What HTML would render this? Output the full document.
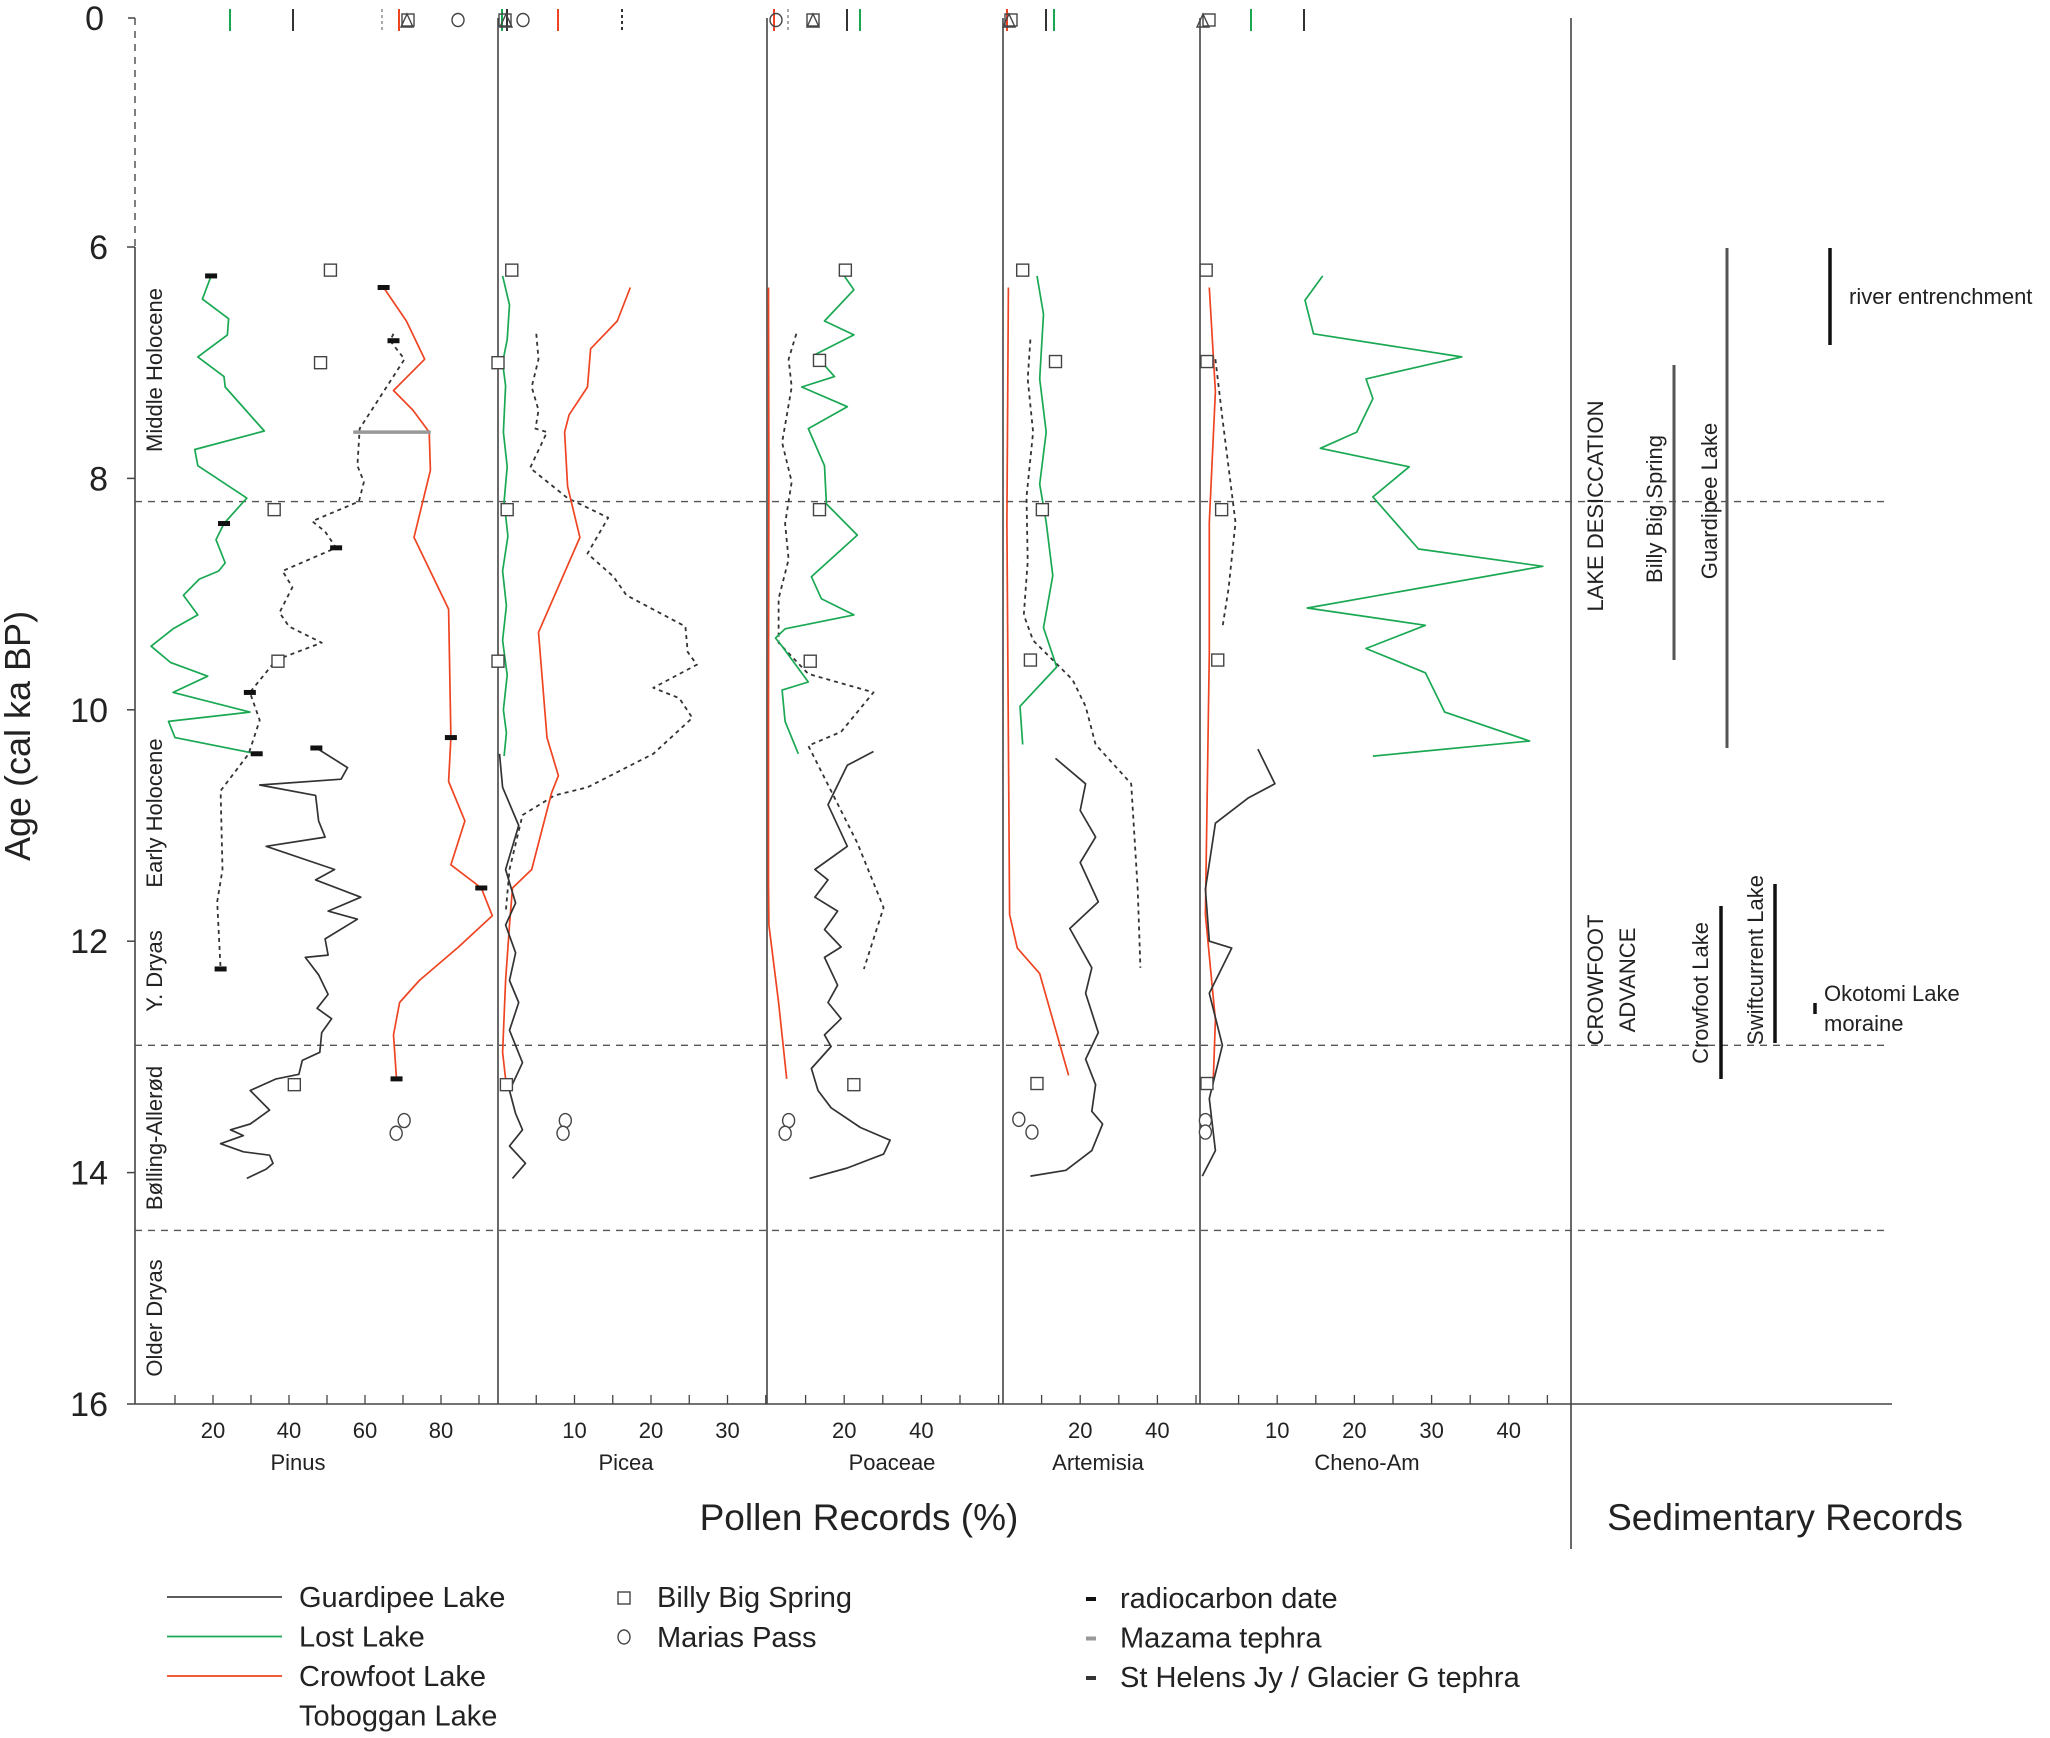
<!DOCTYPE html>
<html><head><meta charset="utf-8"><style>
html,body{margin:0;padding:0;background:#fff}
svg{display:block;font-family:"Liberation Sans",sans-serif}
</style></head><body>
<svg id="chart" width="2050" height="1738" viewBox="0 0 2050 1738" xmlns="http://www.w3.org/2000/svg">
<g id="static"></g>
<g id="marks"></g>
</svg>
<script>
// ---------- data (age ka BP, percent) ----------
const yTicks = [6,8,10,12,14,16];
const zoneBounds = [8.2,12.9,14.5];
const pinusTicks = [20,40,60,80];
const piceaTicks = [10,20,30];
const poaceaeTicks = [20,40];
const artemisiaTicks = [20,40];
const chenoTicks = [10,20,30,40];

const pinusLostAge = [6.25,6.45,6.62,6.76,6.95,7.12,7.21,7.59,7.75,7.89,8.17,8.39,8.53,8.73,8.80,8.87,9.01,9.18,9.30,9.45,9.59,9.71,9.85,10.02,10.10,10.24,10.38];
const pinusLostVal = [19.5,17.2,24.1,23.8,16.0,22.9,23.2,33.5,15.2,16.0,28.9,22.9,20.8,23.2,21.5,16.4,12.2,16.0,9.5,3.7,8.8,18.6,9.5,29.7,8.3,10.0,31.5];
const pinusTobAge = [6.75,6.81,6.97,7.57,7.89,8.03,8.20,8.37,8.46,8.60,8.80,8.94,9.16,9.28,9.42,9.57,9.85,10.09,10.38,10.70,11.38,11.66,12.24];
const pinusTobVal = [67.5,66.6,70.4,58.6,58.0,59.7,58.4,46.1,49.5,52.4,38.3,40.9,37.5,40.0,48.6,36.6,29.7,32.3,29.4,22.0,22.5,21.1,22.0];
const pinusGuaAge = [10.33,10.50,10.60,10.65,10.74,10.96,11.10,11.18,11.38,11.47,11.62,11.74,11.81,11.98,12.12,12.14,12.29,12.46,12.58,12.67,12.79,12.96,13.03,13.15,13.19,13.29,13.46,13.58,13.63,13.68,13.75,13.82,13.85,13.92,13.97,14.05];
const pinusGuaVal = [47.2,55.4,53.7,32.3,47.0,47.8,49.5,34.0,52.0,47.0,58.9,50.3,58.0,49.5,50.3,44.3,47.8,50.3,47.4,51.2,48.6,48.1,43.5,42.6,36.6,29.8,34.9,29.8,24.6,28.0,22.0,28.0,34.9,35.8,34.0,28.9];
const pinusCrowAge = [6.35,6.64,6.97,7.24,7.41,7.60,7.93,8.51,9.13,10.24,10.62,10.96,11.34,11.54,11.78,12.05,12.34,12.53,12.81,13.19];
const pinusCrowVal = [64.9,70.9,75.7,67.5,72.6,76.9,77.2,72.9,82.0,82.6,82.0,86.3,82.6,90.6,93.5,84.6,74.3,69.1,67.5,68.3];
const pinusDateAge = [6.25,8.39,9.85,10.38,10.33,12.24,8.60,6.35,6.81,10.24,11.54,13.19];
const pinusDateVal = [19.5,22.9,29.7,31.5,47.2,22.0,52.4,64.9,67.5,82.6,90.6,68.3];
const pinusSqAge = [6.2,7.0,8.27,9.58,13.24];
const pinusSqVal = [50.9,48.3,36.1,37.1,41.4];
const pinusCircAge = [13.55,13.66];
const pinusCircVal = [70.3,68.2];

const piceaLostAge = [6.25,6.5,6.8,7.0,7.2,7.6,7.9,8.2,8.5,8.8,9.1,9.4,9.7,10.0,10.2,10.4];
const piceaLostVal = [0.6,1.5,1.2,0.6,1.0,0.7,1.2,0.8,1.3,0.6,1.1,0.6,1.2,0.7,1.1,0.8];
const piceaTobAge = [6.75,6.97,7.21,7.41,7.57,7.60,7.91,8.17,8.34,8.65,8.85,9.01,9.28,9.50,9.61,9.81,9.90,10.07,10.38,10.67,10.74,10.91,11.38,11.76];
const piceaTobVal = [5.0,5.3,4.4,5.3,4.9,6.4,4.2,9.1,14.4,11.7,15.1,16.8,24.5,24.8,26.0,20.3,23.7,25.4,20.3,11.7,7.4,3.2,1.5,1.0];
const piceaCrowAge = [6.35,6.64,6.88,7.21,7.45,7.60,8.07,8.51,9.33,10.24,10.57,10.72,11.38,11.54,11.86,12.34,12.96,13.19];
const piceaCrowVal = [17.3,15.6,12.1,11.7,9.3,8.7,9.1,10.7,5.3,6.4,7.9,7.0,4.4,1.9,1.5,1.0,0.6,1.0];
const piceaGuaAge = [10.38,10.67,11.0,11.38,11.67,11.86,12.1,12.34,12.53,12.77,13.05,13.29,13.49,13.63,13.77,13.92,14.05];
const piceaGuaVal = [0.2,0.6,2.7,1.0,2.3,1.0,2.3,1.5,2.7,1.5,3.2,1.5,2.3,3.2,1.5,3.6,1.9];
const piceaSqAge = [6.2,7.0,8.27,9.58,13.24];
const piceaSqVal = [1.8,0,1.2,0,1.1];
const piceaCircAge = [13.55,13.66];
const piceaCircVal = [8.8,8.5];

const poaCrowAge = [6.35,8.0,10.0,11.5,11.86,12.53,13.19];
const poaCrowVal = [0.4,0.5,0.4,0.4,0.5,3.0,5.1];
const poaGuaAge = [10.36,10.48,10.82,11.18,11.38,11.47,11.62,11.74,11.90,12.05,12.14,12.38,12.53,12.67,12.81,12.91,13.10,13.29,13.44,13.61,13.72,13.84,13.96,14.05];
const poaGuaVal = [27.6,20.8,15.8,20.8,12.4,15.8,12.4,18.3,14.9,19.2,14.9,18.3,15.8,19.2,14.9,16.6,11.5,13.2,16.6,24.2,31.9,30.2,20.8,11.0];
const poaTobAge = [6.75,6.97,7.21,7.69,8.03,8.39,8.70,9.04,9.42,9.69,9.85,10.19,10.31,11.15,11.71,12.24];
const poaTobVal = [7.6,5.6,6.4,3.9,6.4,4.7,5.6,3.0,3.0,10.7,27.6,19.2,10.7,23.4,30.2,25.1];
const poaLostAge = [6.25,6.37,6.64,6.76,6.93,7.12,7.21,7.38,7.57,7.89,8.22,8.49,8.85,9.04,9.18,9.30,9.38,9.45,9.76,9.83,10.10,10.38];
const poaLostVal = [20.0,22.5,14.9,22.5,12.4,17.5,9.0,20.8,10.7,14.9,15.4,23.4,11.5,14.1,22.5,4.7,2.2,3.9,10.7,3.9,4.7,8.1];
const poaSqAge = [6.2,6.98,8.27,9.58,13.24];
const poaSqVal = [20.3,13.6,13.6,11.2,22.5];
const poaCircAge = [13.55,13.66];
const poaCircVal = [5.6,4.7];

const artCrowAge = [6.35,8.38,11.77,12.06,12.28,13.16];
const artCrowVal = [1.4,1.0,1.7,3.7,9.5,17.0];
const artGuaAge = [10.42,10.64,10.87,11.10,11.32,11.66,11.89,12.23,12.45,12.79,13.02,13.24,13.47,13.58,13.81,13.98,14.03];
const artGuaVal = [13.6,21.4,20.0,24.0,20.0,24.7,17.3,23.0,21.4,24.7,21.4,24.0,23.0,25.8,23.0,16.3,7.1];
const artTobAge = [6.8,7.14,7.6,8.16,8.72,9.18,9.4,9.74,9.97,10.3,10.64,11.55,12.23];
const artTobVal = [7.1,6.4,7.8,6.1,6.4,5.4,7.8,18.0,21.4,24.0,33.2,34.9,35.6];
const artLostAge = [6.25,6.58,7.14,7.6,8.05,8.38,8.84,9.29,9.63,9.97,10.3];
const artLostVal = [8.8,10.5,9.5,11.2,9.5,11.2,12.9,10.5,13.9,4.4,5.1];
const artSqAge = [6.2,6.99,8.27,9.57,13.23];
const artSqVal = [5.1,13.6,10.2,7.1,8.8];
const artCircAge = [13.54,13.65];
const artCircVal = [4.1,7.5];

const chCrowAge = [6.35,7.25,8.38,9.51,11.77,12.68,13.24];
const chCrowVal = [1.2,2.0,1.2,1.2,0.7,2.0,1.7];
const chTobAge = [6.97,7.48,8.38,8.95,9.29];
const chTobVal = [2.0,2.9,4.6,3.7,2.9];
const chGuaAge = [10.34,10.64,10.76,10.98,11.55,12.0,12.06,12.45,12.9,13.36,13.81,14.03];
const chGuaVal = [7.5,9.7,6.3,2.0,0.7,1.2,4.1,1.2,2.9,1.2,2.0,0.3];
const chLostAge = [6.25,6.46,6.75,6.95,7.14,7.31,7.6,7.74,7.9,8.16,8.61,8.76,9.12,9.27,9.47,9.68,10.02,10.27,10.4];
const chLostVal = [15.9,13.6,14.7,33.9,21.5,22.4,20.3,15.6,27.1,22.4,28.3,44.4,13.9,29.2,21.5,29.2,31.7,42.7,22.4];
const chSqAge = [6.2,6.99,8.27,9.57,13.23,13.55,13.65];
const chSqVal = [0.8,0.9,2.8,2.3,0.9,0.7,0.7];

// ---------- scales ----------
const NS='http://www.w3.org/2000/svg';
function yAge(a){ return a<=0 ? 18 : 247 + (a-6)*115.7; }
const panels = {
 pinus:{x0:137,s:3.80}, picea:{x0:498,s:7.65}, poaceae:{x0:767,s:3.86},
 artemisia:{x0:1003,s:3.86}, cheno:{x0:1200,s:7.72}
};
function xP(p,v){ return panels[p].x0 + v*panels[p].s; }
const GREEN='#1aa853', RED='#ee4422', BLACK='#333';

const st=document.getElementById('static'), mk=document.getElementById('marks');
function el(tag,attrs,parent,txt){ const e=document.createElementNS(NS,tag); for(const k in attrs) e.setAttribute(k,attrs[k]); if(txt!==undefined) e.textContent=txt; parent.appendChild(e); return e; }

// ---------- axes ----------
let e;
e=el('line',{x1:135,y1:18,x2:135,y2:247,stroke:'#555','stroke-width':1.5,'stroke-dasharray':'7,6'},st);
 
e=el('line',{x1:135,y1:247,x2:135,y2:1404,stroke:'#444','stroke-width':1.6},st);
 
e=el('line',{x1:135,y1:18,x2:128,y2:18,stroke:'#444','stroke-width':1.5},st);
 
e=el('text',{x:104,y:30,'font-size':34,'text-anchor':'end',fill:'#222'},st,'0');
 
yTicks.forEach(t=>{
 let l=el('line',{x1:135,y1:yAge(t),x2:127,y2:yAge(t),stroke:'#444','stroke-width':1.5},st);
  
 let tx=el('text',{x:108,y:yAge(t)+12,'font-size':34,'text-anchor':'end',fill:'#222'},st,String(t));
  
});
e=el('text',{x:0,y:0,'font-size':36,'text-anchor':'middle',fill:'#222',transform:'translate(30,736) rotate(-90)'},st,'Age (cal ka BP)');
 

e=el('line',{x1:135,y1:1404,x2:1892,y2:1404,stroke:'#444','stroke-width':1.6},st);
 
[498,767,1003,1200].forEach(x=>{
 let l=el('line',{x1:x,y1:18,x2:x,y2:1404,stroke:'#444','stroke-width':1.6},st);
  
});
e=el('line',{x1:1571,y1:18,x2:1571,y2:1549,stroke:'#444','stroke-width':1.6},st);
 

zoneBounds.forEach(a=>{
 let l=el('line',{x1:135,y1:yAge(a),x2:1887,y2:yAge(a),stroke:'#555','stroke-width':1.4,'stroke-dasharray':'7,6'},st);
  
});

function xTicks(p,labels,minor,max,name,labelX){
 for(let v=minor; v<=max; v+=minor){
  let l=el('line',{x1:xP(p,v),y1:1404,x2:xP(p,v),y2:1395,stroke:'#444','stroke-width':1.3},st);
   
 }
 labels.forEach(v=>{
  let t=el('text',{x:xP(p,v),y:1438,'font-size':22,'text-anchor':'middle',fill:'#222'},st,String(v));
   
 });
 let t=el('text',{x:labelX,y:1470,'font-size':22,'text-anchor':'middle',fill:'#222'},st,name);
  
}
xTicks('pinus',pinusTicks,10,90,'Pinus',298);
xTicks('picea',piceaTicks,5,35,'Picea',626);
xTicks('poaceae',poaceaeTicks,10,60,'Poaceae',892);
xTicks('artemisia',artemisiaTicks,10,50,'Artemisia',1098);
xTicks('cheno',chenoTicks,5,45,'Cheno-Am',1367);

e=el('text',{x:859,y:1530,'font-size':37,'text-anchor':'middle',fill:'#222'},st,'Pollen Records (%)');
 
e=el('text',{x:1785,y:1530,'font-size':37,'text-anchor':'middle',fill:'#222'},st,'Sedimentary Records');
 

// zone labels
[['Middle Holocene',370],['Early Holocene',813],['Y. Dryas',971],['Bølling-Allerød',1138],['Older Dryas',1318]].forEach(z=>{
 let t=el('text',{x:0,y:0,'font-size':22,'text-anchor':'middle',fill:'#222',transform:'translate(162,'+z[1]+') rotate(-90)'},st,z[0]);
  
});

// ---------- series ----------
function line(p,ages,vals,color,dash,name){
 const pts=ages.map((a,i)=>xP(p,vals[i]).toFixed(1)+','+yAge(a).toFixed(1)).join(' ');
 const l=el('polyline',{points:pts,fill:'none',stroke:color,'stroke-width':dash?1.8:1.7,'stroke-linejoin':'round'},mk);
 if(dash) l.setAttribute('stroke-dasharray','4,4');
 
 
}
function squares(p,ages,vals,name){
 ages.forEach((a,i)=>{
  const r=el('rect',{x:xP(p,vals[i])-6,y:yAge(a)-6,width:12,height:12,fill:'#fff',stroke:'#444','stroke-width':1.4},mk);
  
  
 });
}
function circles(p,ages,vals,name){
 ages.forEach((a,i)=>{
  const c=el('ellipse',{cx:xP(p,vals[i]),cy:yAge(a),rx:6,ry:7,fill:'#fff',stroke:'#444','stroke-width':1.4},mk);
  
  
 });
}
line('pinus',pinusLostAge,pinusLostVal,GREEN,false,'pinus-lost-lake');
line('pinus',pinusTobAge,pinusTobVal,BLACK,true,'pinus-toboggan-lake');
line('pinus',pinusGuaAge,pinusGuaVal,BLACK,false,'pinus-guardipee-lake');
line('pinus',pinusCrowAge,pinusCrowVal,RED,false,'pinus-crowfoot-lake');
e=el('line',{x1:xP('pinus',56.9),y1:yAge(7.6),x2:xP('pinus',77.3),y2:yAge(7.6),stroke:'#999','stroke-width':3.5},mk);
 
pinusDateAge.forEach((a,i)=>{
 const r=el('rect',{x:xP('pinus',pinusDateVal[i])-6,y:yAge(a)-2.5,width:12,height:5,fill:'#111'},mk);
 
 
});
squares('pinus',pinusSqAge,pinusSqVal,'pinus-billy-big-spring');
circles('pinus',pinusCircAge,pinusCircVal,'pinus-marias-pass');

line('picea',piceaLostAge,piceaLostVal,GREEN,false,'picea-lost-lake');
line('picea',piceaTobAge,piceaTobVal,BLACK,true,'picea-toboggan-lake');
line('picea',piceaCrowAge,piceaCrowVal,RED,false,'picea-crowfoot-lake');
line('picea',piceaGuaAge,piceaGuaVal,BLACK,false,'picea-guardipee-lake');
squares('picea',piceaSqAge,piceaSqVal,'picea-billy-big-spring');
circles('picea',piceaCircAge,piceaCircVal,'picea-marias-pass');

line('poaceae',poaCrowAge,poaCrowVal,RED,false,'poaceae-crowfoot-lake');
line('poaceae',poaGuaAge,poaGuaVal,BLACK,false,'poaceae-guardipee-lake');
line('poaceae',poaTobAge,poaTobVal,BLACK,true,'poaceae-toboggan-lake');
line('poaceae',poaLostAge,poaLostVal,GREEN,false,'poaceae-lost-lake');
squares('poaceae',poaSqAge,poaSqVal,'poaceae-billy-big-spring');
circles('poaceae',poaCircAge,poaCircVal,'poaceae-marias-pass');

line('artemisia',artCrowAge,artCrowVal,RED,false,'artemisia-crowfoot-lake');
line('artemisia',artGuaAge,artGuaVal,BLACK,false,'artemisia-guardipee-lake');
line('artemisia',artTobAge,artTobVal,BLACK,true,'artemisia-toboggan-lake');
line('artemisia',artLostAge,artLostVal,GREEN,false,'artemisia-lost-lake');
squares('artemisia',artSqAge,artSqVal,'artemisia-billy-big-spring');
circles('artemisia',artCircAge,artCircVal,'artemisia-marias-pass');

line('cheno',chCrowAge,chCrowVal,RED,false,'cheno-crowfoot-lake');
line('cheno',chTobAge,chTobVal,BLACK,true,'cheno-toboggan-lake');
line('cheno',chGuaAge,chGuaVal,BLACK,false,'cheno-guardipee-lake');
line('cheno',chLostAge,chLostVal,GREEN,false,'cheno-lost-lake');
squares('cheno',chSqAge.slice(0,5),chSqVal.slice(0,5),'cheno-billy-big-spring');
circles('cheno',chSqAge.slice(5),chSqVal.slice(5),'cheno-marias-pass');

// ---------- top (age 0) markers ----------
const topTicks=[[230,GREEN,0],[293,BLACK,0],[382,'#aaa',1],[399,RED,0],[502,GREEN,0],[507,BLACK,0],[558,RED,0],[622,BLACK,1],[774,RED,0],[788,'#aaa',1],[847,BLACK,0],[860,GREEN,0],[1007,RED,0],[1046,BLACK,0],[1054,GREEN,0],[1251,GREEN,0],[1304,BLACK,0]];
topTicks.forEach(t=>{
 const l=el('line',{x1:t[0],y1:9,x2:t[0],y2:31,stroke:t[1],'stroke-width':2},mk);
 if(t[2]) l.setAttribute('stroke-dasharray','3,3');
 
 
});
[407,506,813,1009,1203].forEach(x=>{
 const p=el('polygon',{points:(x-6)+',27 '+(x+6)+',27 '+x+',14',fill:'none',stroke:'#444','stroke-width':1.4},mk);
 
 
});
[[408,20],[505,20],[813,20],[1011,20],[1209,20]].forEach(s=>{
 const r=el('rect',{x:s[0]-6,y:s[1]-6,width:12,height:12,fill:'none',stroke:'#444','stroke-width':1.4},mk);
 
 
});
[[458,20],[523,20],[776,20]].forEach(s=>{
 const c=el('ellipse',{cx:s[0],cy:s[1],rx:6,ry:6.5,fill:'none',stroke:'#444','stroke-width':1.4},mk);
 
 
});

// ---------- sedimentary records ----------
function vtext(str,x,y,name){ const t=el('text',{x:0,y:0,'font-size':22,'text-anchor':'middle',fill:'#222',transform:'translate('+x+','+y+') rotate(-90)'},st,str);   }
function bar(x,y1,y2,w,c,name){ const l=el('line',{x1:x,y1:y1,x2:x,y2:y2,stroke:c,'stroke-width':w},st);   }
vtext('LAKE DESICCATION',1603,506,'lake-desiccation-label');
vtext('Billy Big Spring',1662,509,'billy-big-spring-label');
bar(1674,365,660,3,'#555','billy-big-spring-bar');
vtext('Guardipee Lake',1717,501,'guardipee-lake-label');
bar(1727,248,748,3,'#555','guardipee-lake-bar');
bar(1830,248,345,3.5,'#111','river-entrenchment-bar');
e=el('text',{x:1849,y:304,'font-size':22,fill:'#222'},st,'river entrenchment');
 
vtext('CROWFOOT',1603,980,'crowfoot-advance-label');
vtext('ADVANCE',1635,980,'crowfoot-advance-label-2');
vtext('Crowfoot Lake',1708,993,'crowfoot-lake-label');
bar(1721,906,1079,3.5,'#111','crowfoot-lake-bar');
vtext('Swiftcurrent Lake',1763,960,'swiftcurrent-lake-label');
bar(1775,884,1043,3.5,'#111','swiftcurrent-lake-bar');
bar(1815,1003,1014,3.5,'#111','okotomi-bar');
e=el('text',{x:1824,y:1001,'font-size':22,fill:'#222'},st,'Okotomi Lake');
 
e=el('text',{x:1824,y:1031,'font-size':22,fill:'#222'},st,'moraine');
 

// ---------- legend ----------
const legendLines=[['Guardipee Lake','#444'],['Lost Lake',GREEN],['Crowfoot Lake',RED],['Toboggan Lake',null]];
legendLines.forEach((l,i)=>{
 const y=1597+i*39.5;
 if(l[1]){ const ln=el('line',{x1:167,y1:y,x2:282,y2:y,stroke:l[1],'stroke-width':1.8},st);   }
 const t=el('text',{x:299,y:y+10,'font-size':29,fill:'#222'},st,l[0]);
  
});
e=el('rect',{x:618,y:1592,width:12,height:12,fill:'none',stroke:'#444','stroke-width':1.4},st);
 
e=el('text',{x:657,y:1607,'font-size':29,fill:'#222'},st,'Billy Big Spring');
 
e=el('ellipse',{cx:624,cy:1637,rx:6,ry:7,fill:'none',stroke:'#444','stroke-width':1.4},st);
 
e=el('text',{x:657,y:1647,'font-size':29,fill:'#222'},st,'Marias Pass');
 
[['radiocarbon date','#111'],['Mazama tephra','#999'],['St Helens Jy / Glacier G tephra','#333']].forEach((l,i)=>{
 const y=1599+i*39.5;
 const r=el('rect',{x:1086,y:y-2,width:10,height:4,fill:l[1]},st);
  
 const t=el('text',{x:1120,y:y+9,'font-size':29,fill:'#222'},st,l[0]);
  
});
</script>
</body></html>
